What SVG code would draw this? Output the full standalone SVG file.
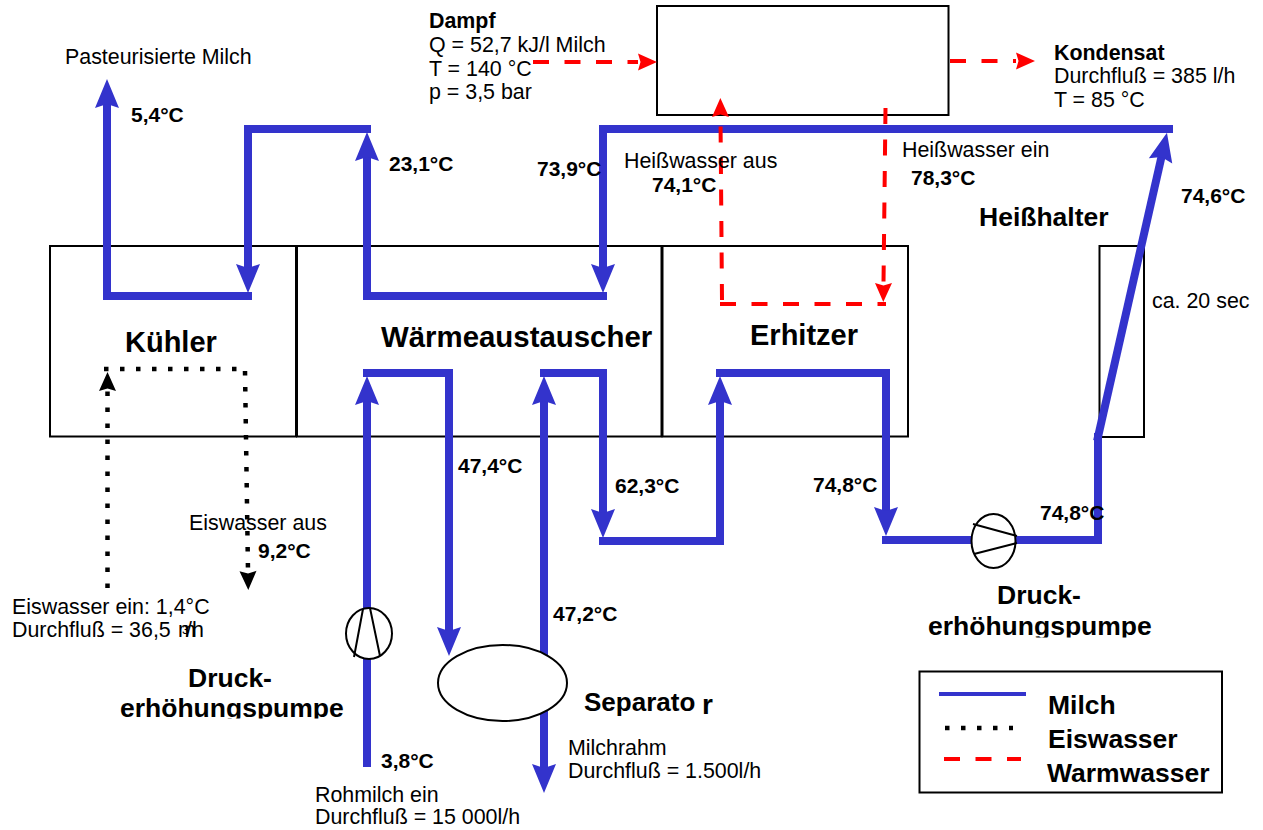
<svg xmlns="http://www.w3.org/2000/svg" width="1263" height="830" viewBox="0 0 1263 830">
<style>
text{font-family:"Liberation Sans",Arial,sans-serif;font-size:21.4px;fill:#000}
.b{font-weight:bold}
.t{font-weight:bold;font-size:21px}
.h{font-weight:bold;font-size:26.5px}
.box{fill:none;stroke:#000;stroke-width:2}
.sym{fill:#fff;stroke:#000;stroke-width:2}
.pl{fill:none;stroke:#000;stroke-width:2}
.m{stroke:#3333cc;stroke-width:8;stroke-linecap:square;fill:none}
.e{stroke:#000;stroke-width:4.5;stroke-dasharray:4.5 11.5;fill:none}
.w{stroke:#ff0000;stroke-width:4;stroke-dasharray:16 15.5;fill:none}
</style>
<defs>
<marker id="am" markerUnits="userSpaceOnUse" markerWidth="30" markerHeight="28" refX="1" refY="14" orient="auto" overflow="visible"><path d="M-1 2 L28 14 L-1 26 L3 14 Z" fill="#3333cc"/></marker>
<marker id="ae" markerUnits="userSpaceOnUse" markerWidth="20" markerHeight="20" refX="0" refY="10" orient="auto" overflow="visible"><path d="M0 1.5 L19 10 L0 18.5 L2.5 10 Z" fill="#000"/></marker>
<marker id="aw" markerUnits="userSpaceOnUse" markerWidth="20" markerHeight="20" refX="0" refY="10" orient="auto" overflow="visible"><path d="M0 1.5 L19 10 L0 18.5 L2.5 10 Z" fill="#ff0000"/></marker>
<clipPath id="c1"><rect x="100" y="690" width="260" height="28.5"/></clipPath>
<clipPath id="c2"><rect x="910" y="610" width="260" height="27.5"/></clipPath>
</defs>
<g id="kuehler"><rect class="box" x="50" y="246" width="246" height="190.5"/><text class="h" x="125" y="352" style="font-size:29px">Kühler</text></g>
<g id="waermeaustauscher"><rect class="box" x="297" y="246" width="364.5" height="190.5"/><text class="h" x="381" y="347" style="font-size:29.4px">Wärmeaustauscher</text></g>
<g id="erhitzer"><rect class="box" x="662.5" y="246" width="245.5" height="190.5"/><text class="h" x="750" y="345" style="font-size:29px">Erhitzer</text></g>
<g id="heisshalter"><rect class="box" x="1099.5" y="246" width="44.5" height="191"/><text class="h" x="979" y="226">Heißhalter</text><text x="1152" y="308">ca. 20 sec</text></g>
<g id="dampfraum"><rect class="box" x="657" y="6" width="291.5" height="109"/></g>
<g id="connectors">
<line class="m" x1="107" y1="296" x2="107" y2="106" marker-end="url(#am)"/>
<line class="m" x1="107" y1="296" x2="248" y2="296"/>
<line class="m" x1="248" y1="129" x2="248" y2="266" marker-end="url(#am)"/>
<line class="m" x1="248" y1="129" x2="367" y2="129"/>
<line class="m" x1="367" y1="296" x2="367" y2="159" marker-end="url(#am)"/>
<line class="m" x1="367" y1="296" x2="603" y2="296"/>
<line class="m" x1="603" y1="129" x2="603" y2="266" marker-end="url(#am)"/>
<line class="m" x1="603" y1="129" x2="1169" y2="129"/>
<line class="m" x1="1098" y1="437" x2="1161" y2="159" marker-end="url(#am)"/>
<line class="m" x1="1098" y1="437" x2="1098" y2="540"/>
<line class="m" x1="886" y1="540" x2="1098" y2="540"/>
<line class="m" x1="886" y1="373" x2="886" y2="509" marker-end="url(#am)"/>
<line class="m" x1="720" y1="373" x2="886" y2="373"/>
<line class="m" x1="720" y1="541" x2="720" y2="403" marker-end="url(#am)"/>
<line class="m" x1="603" y1="541" x2="720" y2="541"/>
<line class="m" x1="603" y1="373" x2="603" y2="511" marker-end="url(#am)"/>
<line class="m" x1="544" y1="373" x2="603" y2="373"/>
<line class="m" x1="544" y1="651" x2="544" y2="403" marker-end="url(#am)"/>
<line class="m" x1="367" y1="373" x2="449" y2="373"/>
<line class="m" x1="449" y1="373" x2="449" y2="629" marker-end="url(#am)"/>
<line class="m" x1="367" y1="763" x2="367" y2="403" marker-end="url(#am)"/>
<line class="m" x1="544" y1="714" x2="544" y2="766" marker-end="url(#am)"/>
<path class="e" d="M107.5 588 V391" marker-end="url(#ae)"/>
<path class="e" d="M104 369 H245"/>
<path class="e" d="M245 371 L248 571" marker-end="url(#ae)"/>
<path class="w" d="M533 62 H638" marker-end="url(#aw)"/>
<path class="w" d="M950 61 H1016" marker-end="url(#aw)"/>
<path class="w" d="M722 300 L720.5 117" marker-end="url(#aw)"/>
<path class="w" d="M720 304 H886"/>
<path class="w" d="M885.5 108 L883.5 283" marker-end="url(#aw)"/>
</g>
<g id="pumpe-rohmilch"><ellipse class="sym" cx="369" cy="633.5" rx="23" ry="25.5"/><path class="pl" d="M370 608 L380 656 M363 609 L354 657"/></g>
<g id="pumpe-erhitzer"><ellipse class="sym" cx="993.5" cy="541" rx="22" ry="27"/><path class="pl" d="M973 524 L1017 536 M974 554 L1017 543"/></g>
<g id="separator"><ellipse class="sym" cx="502.5" cy="683" rx="64.5" ry="38"/><text class="h" x="584" y="711" style="font-size:26px">Separato</text><text class="h" x="702" y="714" style="font-size:28px">r</text></g>
<g id="labels">
<text x="65" y="64">Pasteurisierte Milch</text>
<text class="t" x="131" y="122">5,4°C</text>
<text class="t" x="389" y="171">23,1°C</text>
<text class="t" x="537" y="176">73,9°C</text>
<text x="624" y="168">Heißwasser aus</text>
<text class="t" x="652" y="192">74,1°C</text>
<text x="902" y="157">Heißwasser ein</text>
<text class="t" x="911" y="185">78,3°C</text>
<text class="t" x="1181" y="203">74,6°C</text>
<text class="t" x="458" y="473">47,4°C</text>
<text class="t" x="615" y="493">62,3°C</text>
<text class="t" x="813" y="492">74,8°C</text>
<text class="t" x="1040" y="520">74,8°C</text>
<text class="t" x="553" y="621">47,2°C</text>
<text class="t" x="381" y="768">3,8°C</text>
<text class="t" x="258" y="558">9,2°C</text>
<text x="189" y="530">Eiswasser aus</text>
<text x="12" y="614">Eiswasser ein: 1,4°C</text>
<text x="12" y="637">Durchfluß = 36,5 <tspan x="178">m</tspan><tspan x="182" dy="-3" style="font-size:13px">3</tspan><tspan x="186" dy="3">/h</tspan></text>
<text class="b" x="429" y="28">Dampf</text>
<text x="429" y="52">Q = 52,7 kJ/l Milch</text>
<text x="429" y="76">T = 140 °C</text>
<text x="429" y="99">p = 3,5 bar</text>
<text class="b" x="1054" y="60">Kondensat</text>
<text x="1054" y="83">Durchfluß = 385 l/h</text>
<text x="1054" y="107">T = 85 °C</text>
<text x="568" y="755">Milchrahm</text>
<text x="568" y="778">Durchfluß = 1.500l/h</text>
<text x="315" y="802">Rohmilch ein</text>
<text x="315" y="824">Durchfluß = 15 000l/h</text>
<text class="h" x="188" y="687">Druck-</text>
<text class="h" x="120" y="717" clip-path="url(#c1)">erhöhungspumpe</text>
<text class="h" x="997" y="604">Druck-</text>
<text class="h" x="928" y="635" clip-path="url(#c2)">erhöhungspumpe</text>
</g>
<g id="legend">
<rect class="box" x="919.5" y="671.5" width="302.5" height="121"/>
<line x1="939" y1="694" x2="1026" y2="694" stroke="#3333cc" stroke-width="4"/>
<line class="e" x1="945" y1="728" x2="1013" y2="728"/>
<line class="w" x1="944" y1="759" x2="1021" y2="759"/>
<text class="h" x="1048" y="714">Milch</text>
<text class="h" x="1048" y="748">Eiswasser</text>
<text class="h" x="1047" y="782">Warmwasser</text>
</g>
</svg>
